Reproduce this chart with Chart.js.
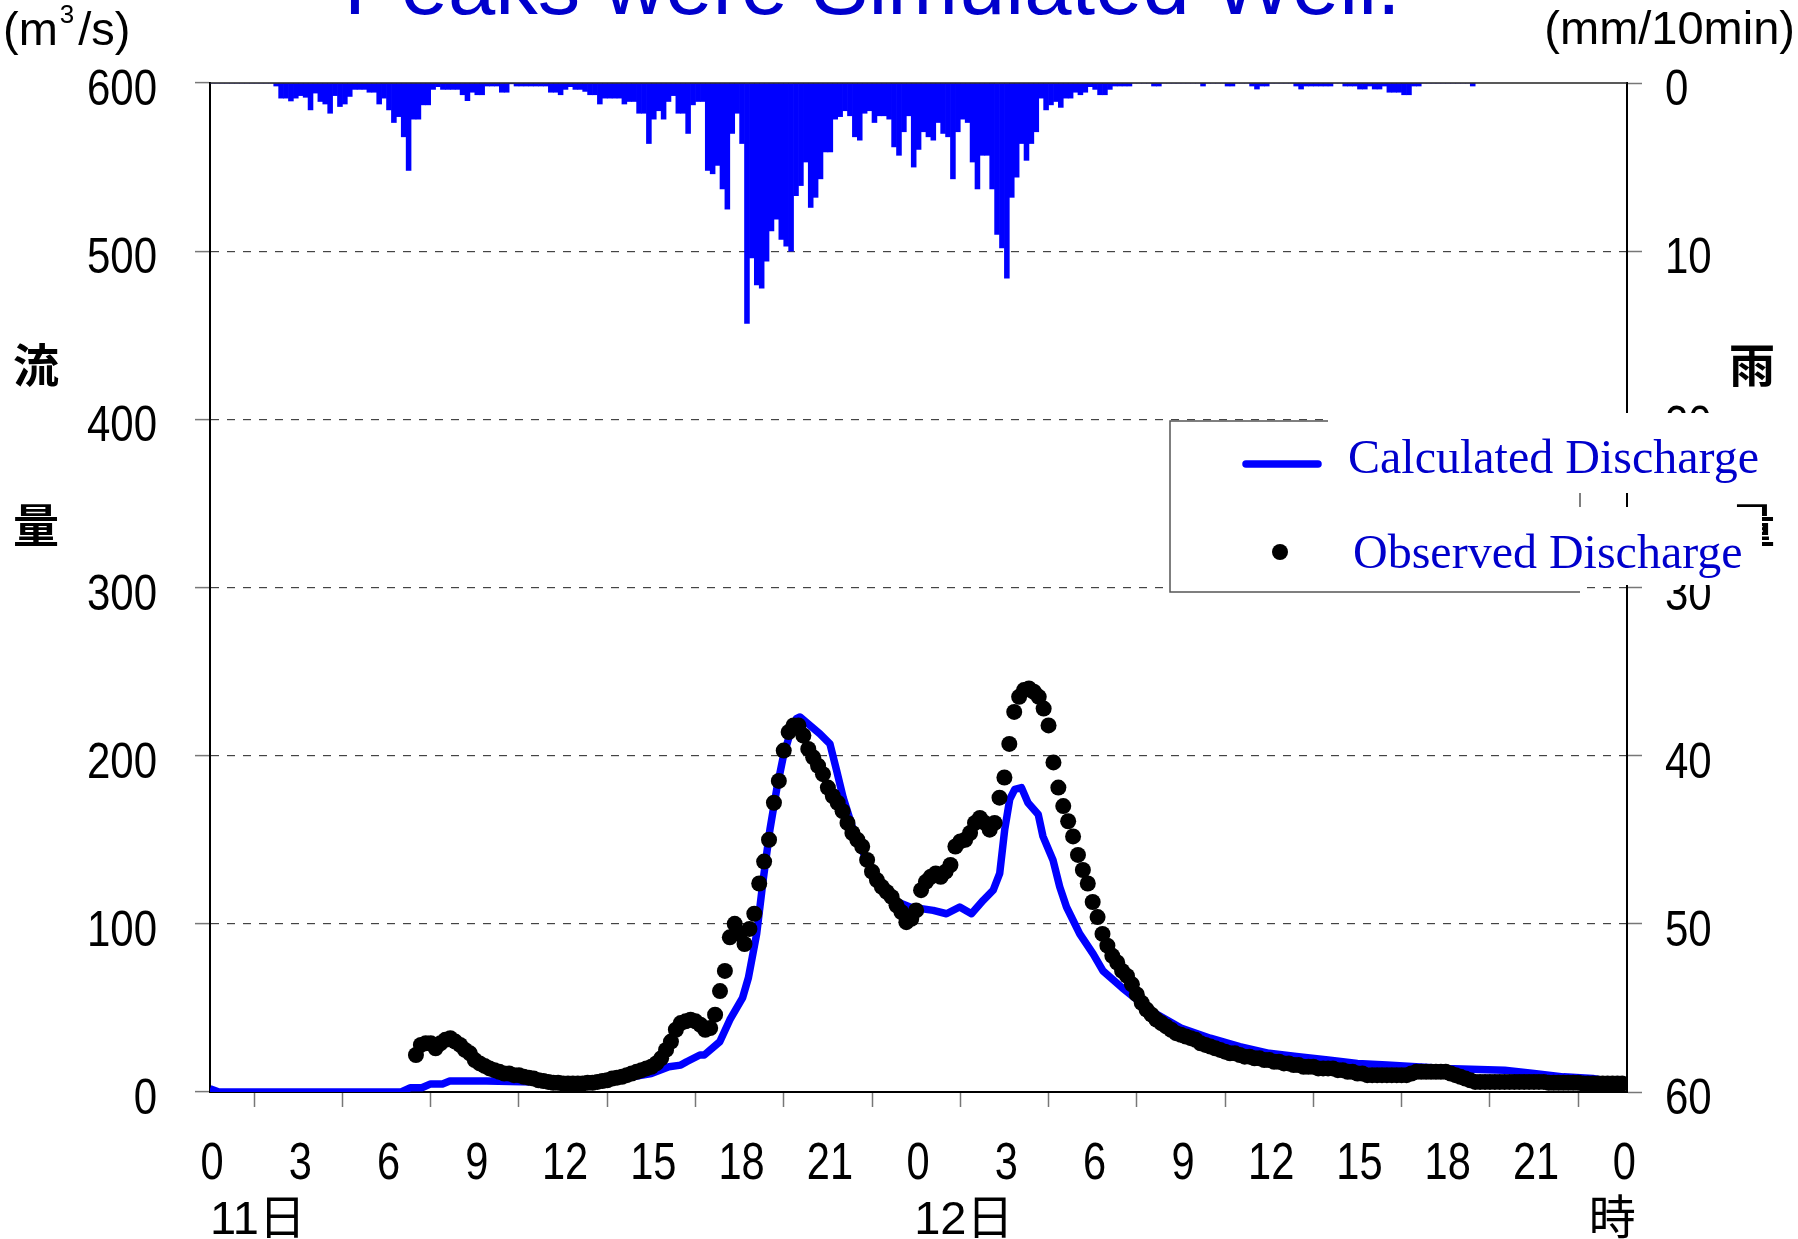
<!DOCTYPE html>
<html lang="ja">
<head>
<meta charset="UTF-8">
<title>流量・雨量</title>
<script src="https://cdn.jsdelivr.net/npm/chart.js"></script>
<style>
  html, body { margin: 0; padding: 0; background: #fff; }
  #hydro { display: block; }
</style>
</head>
<body>
<canvas id="hydro" width="1798" height="1239"></canvas>
<script>
// time axis (hours from 0:00 on the 11th)
const hourTicks = [0, 3, 6, 9, 12, 15, 18, 21, 24, 27, 30, 33, 36, 39, 42, 45, 48];
const dayLabels = ["11日", "12日", "時"];

// rainfall, mm per 10 min, index = 10-min step from 0:00 on the 11th
const rainfall = [
  0, 0, 0, 0, 0, 0, 0, 0, 0, 0, 0, 0,
  0, 0.18, 0.9, 0.9, 1.07, 0.9, 0.75, 0.85, 1.6, 0.6, 1.1, 1.25,
  1.8, 0.75, 1.4, 1.25, 0.8, 0.38, 0.38, 0.38, 0.55, 0.55, 1.25, 0.9,
  1.6, 2.35, 2.0, 3.2, 5.2, 2.15, 2.15, 1.3, 1.3, 0.38, 0.22, 0.38,
  0.38, 0.38, 0.38, 0.7, 1.05, 0.55, 0.7, 0.7, 0.18, 0.18, 0.18, 0.55,
  0.55, 0.05, 0.18, 0.18, 0.18, 0.18, 0.18, 0.18, 0.18, 0.55, 0.55, 0.7,
  0.38, 0.22, 0.38, 0.38, 0.5, 0.7, 0.7, 1.25, 0.9, 0.9, 0.9, 0.9,
  1.25, 1.1, 1.1, 1.8, 1.8, 3.6, 2.15, 1.65, 2.15, 1.1, 0.75, 1.8,
  1.8, 3.0, 1.3, 1.1, 1.1, 5.2, 5.4, 4.9, 6.3, 7.5, 3.0, 1.8,
  3.6, 14.3, 10.4, 12.0, 12.2, 10.6, 8.8, 8.1, 9.3, 9.7, 10.0, 6.7,
  6.1, 4.7, 7.4, 6.8, 5.7, 4.1, 4.1, 2.15, 2.0, 1.65, 1.95, 3.2,
  3.4, 1.8, 1.65, 2.35, 1.95, 1.95, 2.15, 3.8, 4.3, 2.9, 1.95, 5.0,
  3.95, 2.9, 3.2, 3.4, 2.35, 3.0, 3.2, 5.7, 2.9, 2.15, 2.35, 4.7,
  6.3, 4.3, 4.3, 6.3, 9.0, 9.8, 11.6, 6.8, 5.6, 3.6, 4.6, 3.6,
  2.9, 0.9, 1.6, 1.3, 1.1, 1.45, 0.9, 0.9, 0.55, 0.7, 0.55, 0.22,
  0.38, 0.7, 0.7, 0.38, 0.18, 0.18, 0.18, 0.18, 0, 0, 0, 0,
  0.18, 0.18, 0, 0, 0, 0, 0, 0, 0, 0, 0.18, 0,
  0, 0, 0, 0.18, 0.18, 0, 0, 0, 0.18, 0.36, 0.18, 0.18,
  0, 0, 0, 0, 0, 0.18, 0.36, 0.18, 0.18, 0.18, 0.18, 0.18,
  0.18, 0, 0, 0.18, 0.18, 0.18, 0.36, 0.36, 0.18, 0.36, 0.36, 0.18,
  0.55, 0.55, 0.55, 0.7, 0.7, 0.18, 0.18, 0, 0, 0, 0, 0,
  0, 0, 0, 0, 0, 0.18
];

// calculated discharge (m3/s)
const calcHours = [
  0, 0.3, 6.5, 6.8, 7.2, 7.5, 7.9, 8.15, 9.4, 11, 13, 14, 15, 15.6, 16.0, 16.2,
  16.65, 16.8, 17.33, 17.67, 18.1, 18.3, 18.58, 18.8, 19.03, 19.26, 19.48, 19.71,
  19.93, 20.05, 20.73, 21.07, 21.3, 21.52, 21.86, 22.31, 22.77, 23.22, 23.79,
  24.58, 25.03, 25.48, 25.88, 26.28, 26.62, 26.84, 27.01, 27.18, 27.35, 27.58,
  27.8, 28.15, 28.31, 28.65, 28.88, 29.11, 29.56, 30.02, 30.35, 31, 32, 33, 34,
  35, 36, 37, 38, 39, 40, 42, 44, 45, 46, 47, 48
];
const calcFlow = [
  2, 0, 0, 2.5, 2.5, 4.8, 4.8, 6.5, 6.5, 6, 6.5, 8, 11, 15, 16, 18,
  22, 22, 30, 43, 56, 68, 94, 126, 156, 180, 199, 213,
  222, 223, 213, 207, 191, 175, 156, 138, 122, 114, 110,
  108, 106, 110, 106, 114, 120, 130, 156, 174, 180, 181,
  172, 165, 152, 138, 122, 110, 94, 82, 72, 62, 48, 38, 32,
  27, 23, 21, 19, 17, 16, 14, 13, 11, 9, 8, 5
];

// observed discharge (m3/s), every 10 min from 7:00 on the 11th
const obsStartHour = 7;
const obsFlow = [
  22, 28, 29, 29, 26, 29,
  31, 32, 30, 28, 25, 23,
  19, 17, 15.5, 14, 13, 12,
  11, 11, 10, 10, 9, 8.5,
  8, 7, 6.5, 6, 5.5, 5.5,
  5, 5, 5, 5, 5, 5.5,
  5.5, 6, 6.5, 7, 8, 8.5,
  9, 10, 11, 12, 13, 14,
  15, 17, 20, 25, 30, 37,
  41, 42, 43, 42, 40, 37,
  38, 46, 60, 72, 92, 100,
  94, 88, 97, 106, 124, 137,
  150, 172, 185, 203, 214, 218,
  218, 212, 204, 199, 194, 189,
  181, 176, 172, 167, 160, 154,
  150, 146, 138, 131, 126, 122,
  119, 116, 111, 107, 101, 103,
  108, 120, 125, 128, 130, 128,
  131, 135, 146, 149, 150, 154,
  160, 163, 160, 156, 160, 175,
  187, 207, 226, 235, 239, 240,
  238, 235, 228, 218, 196, 181,
  170, 161, 152, 141, 132, 124,
  113, 104, 94, 87, 81, 77,
  72, 69, 64, 58, 53, 49,
  46, 43, 41, 39, 37, 35,
  34, 33, 32, 31, 29, 28,
  27, 26, 25, 24, 23, 23,
  22, 21, 21, 20, 20, 19,
  19, 18, 18, 17, 17, 16,
  16, 15, 15, 15, 14, 14,
  14, 14, 13, 13, 12, 12,
  11, 11, 10, 10, 10, 10,
  10, 10, 10, 10, 10, 11,
  12, 12, 12, 12, 12, 12,
  12, 11, 10, 9, 8, 7,
  6, 6, 6, 6, 6, 6,
  6, 6, 6, 6, 6, 6,
  6, 6, 6, 5.5, 5.5, 5.5,
  5.5, 5.5, 5.5, 5.5, 5, 5,
  5, 5, 5, 5, 5, 5,
  5
];

const SANS = "'Liberation Sans', Arial, sans-serif";
const CJK = "'Noto Sans CJK JP', 'Noto Sans CJK SC', sans-serif";
const HIDDEN = "rgba(0,0,0,0)";

const rainPoints = rainfall.map((v, k) => ({ x: k / 6 + 1 / 12, y: v }));
const calcPoints = calcHours.map((h, i) => ({ x: h, y: calcFlow[i] }));
const obsPoints = obsFlow.map((q, i) => ({ x: obsStartHour + i / 6, y: q }));

// the original uses a tall narrow face; squeeze Liberation Sans horizontally
function narrowText(ctx, text, x, y, align, size, sx) {
  ctx.save();
  ctx.font = size + "px " + SANS;
  ctx.textAlign = "left";
  ctx.textBaseline = "alphabetic";
  const w = ctx.measureText(text).width * sx;
  const left = align === "right" ? x - w : align === "center" ? x - w / 2 : x;
  ctx.translate(left, y);
  ctx.scale(sx, 1);
  ctx.fillText(text, 0, 0);
  ctx.restore();
}

// extra text: tick labels, title, units, side labels, day labels, legend
const decorations = {
  id: "decorations",
  afterDraw(chart) {
    const ctx = chart.ctx;
    const area = chart.chartArea;
    const xs = chart.scales.x;
    const ys = chart.scales.y;
    const y2s = chart.scales.y2;
    ctx.save();

    // top frame line
    ctx.strokeStyle = "#222";
    ctx.lineWidth = 1.5;
    ctx.beginPath();
    ctx.moveTo(area.left, area.top);
    ctx.lineTo(area.right, area.top);
    ctx.stroke();

    // tick labels at the library's tick positions
    ctx.fillStyle = "#000";
    ys.ticks.forEach((t) => narrowText(ctx, String(t.label), area.left - 53, ys.getPixelForValue(t.value) + 22, "right", 50, 0.84));
    y2s.ticks.forEach((t) => narrowText(ctx, String(t.label), area.right + 38, y2s.getPixelForValue(t.value) + 22, "left", 50, 0.84));
    xs.ticks.forEach((t) => narrowText(ctx, String(t.label), xs.getPixelForValue(t.value) + 2, 1179, "center", 52, 0.8));

    // title (cut off by the top edge)
    ctx.fillStyle = "#0000cc";
    ctx.font = "85px " + SANS;
    ctx.textAlign = "left";
    ctx.textBaseline = "alphabetic";
    ctx.fillText("Peaks were Simulated Well.", 344, 14);

    // units
    ctx.fillStyle = "#000";
    ctx.font = "47px " + SANS;
    let x = 3;
    ctx.fillText("(m", x, 45);
    x += ctx.measureText("(m").width + 2;
    ctx.font = "26px " + SANS;
    ctx.fillText("3", x, 23);
    x += ctx.measureText("3").width + 4;
    ctx.font = "47px " + SANS;
    ctx.fillText("/s)", x, 45);
    ctx.textAlign = "right";
    ctx.fillText("(mm/10min)", 1795, 44);

    // side labels
    ctx.font = "bold 46px " + CJK;
    ctx.textAlign = "center";
    ctx.textBaseline = "middle";
    ctx.fillText("流", 36, 365);
    ctx.fillText("量", 36, 525);
    ctx.fillText("雨", 1752, 365);
    ctx.fillText("量", 1752, 525);

    // day labels under the hour ticks
    ctx.font = "47px 'Liberation Sans', " + CJK;
    ctx.textBaseline = "alphabetic";
    ctx.textAlign = "left";
    ctx.fillText(dayLabels[0], xs.getPixelForValue(0), 1234);
    ctx.fillText(dayLabels[1], xs.getPixelForValue(24) - 2, 1234);
    ctx.textAlign = "center";
    ctx.fillText(dayLabels[2], xs.getPixelForValue(48) - 10, 1234);

    // legend box (its white strips hide part of the right axis)
    ctx.fillStyle = "#fff";
    ctx.fillRect(1170, 421, 410, 171);
    ctx.fillRect(1328, 413, 437, 80);
    ctx.fillRect(1328, 507, 434, 78);
    ctx.strokeStyle = "#555";
    ctx.lineWidth = 1.5;
    ctx.beginPath();
    ctx.moveTo(1328, 421); ctx.lineTo(1170, 421); ctx.lineTo(1170, 592); ctx.lineTo(1580, 592);
    ctx.moveTo(1580, 493); ctx.lineTo(1580, 507);
    ctx.stroke();

    ctx.strokeStyle = "#0000ff";
    ctx.lineWidth = 7.5;
    ctx.lineCap = "round";
    ctx.beginPath();
    ctx.moveTo(1246, 464);
    ctx.lineTo(1318, 464);
    ctx.stroke();
    ctx.fillStyle = "#000";
    ctx.beginPath();
    ctx.arc(1280, 552, 8, 0, Math.PI * 2);
    ctx.fill();

    ctx.fillStyle = "#0000cc";
    ctx.font = "48px 'Liberation Serif', 'Times New Roman', serif";
    ctx.textAlign = "left";
    ctx.textBaseline = "alphabetic";
    ctx.fillText("Calculated Discharge", 1348, 473);
    ctx.fillText("Observed Discharge", 1353, 568);

    ctx.restore();
  }
};

new Chart(document.getElementById("hydro"), {
  type: "line",
  data: {
    datasets: [
      {
        type: "bar",
        label: "Rainfall",
        data: rainPoints,
        yAxisID: "y2",
        backgroundColor: "#0000ff",
        borderWidth: 0,
        barPercentage: 1,
        categoryPercentage: 1,
        order: 3
      },
      {
        type: "line",
        label: "Calculated Discharge",
        data: calcPoints,
        yAxisID: "y",
        borderColor: "#0000ff",
        borderWidth: 7.5,
        borderJoinStyle: "round",
        pointRadius: 0,
        tension: 0,
        fill: false,
        order: 2
      },
      {
        type: "line",
        label: "Observed Discharge",
        data: obsPoints,
        yAxisID: "y",
        showLine: false,
        pointRadius: 8,
        pointBackgroundColor: "#000",
        pointBorderColor: "#000",
        pointBorderWidth: 0,
        order: 1
      }
    ]
  },
  options: {
    responsive: false,
    animation: false,
    devicePixelRatio: 1,
    layout: { padding: { top: 83, left: 0, right: 0, bottom: 0 } },
    plugins: {
      legend: { display: false },
      title: { display: false },
      tooltip: { enabled: false }
    },
    scales: {
      x: {
        type: "linear",
        min: 0,
        max: 48.16,
        offset: false,
        afterBuildTicks: (s) => { s.ticks = hourTicks.map((v) => ({ value: v })); },
        afterFit: (s) => { s.height = 147; },
        ticks: {
          autoSkip: false,
          maxRotation: 0,
          color: HIDDEN,
          font: { family: SANS, size: 47 },
          callback: (v) => String(v % 24)
        },
        grid: { drawOnChartArea: false, tickLength: 15, tickColor: "#777", tickWidth: 1.5 },
        border: { color: "#000", width: 2 }
      },
      y: {
        position: "left",
        min: 0,
        max: 600,
        afterFit: (s) => { s.width = 210; },
        ticks: { stepSize: 100, color: HIDDEN, font: { family: SANS, size: 47 } },
        grid: {
          color: (c) => (c.tick && (c.tick.value === 0 || c.tick.value === 600)) ? HIDDEN : "#444",
          lineWidth: 1.2,
          tickLength: 15,
          tickColor: "#777",
          tickWidth: 1.5
        },
        border: { color: "#000", width: 2, dash: [8, 8] }
      },
      y2: {
        position: "right",
        reverse: true,
        min: 0,
        max: 60,
        afterFit: (s) => { s.width = 171; },
        ticks: { stepSize: 10, color: HIDDEN, font: { family: SANS, size: 47 } },
        grid: { drawOnChartArea: false, tickLength: 15, tickColor: "#777", tickWidth: 1.5 },
        border: { color: "#000", width: 2 }
      }
    }
  },
  plugins: [decorations]
});
</script>
</body>
</html>
